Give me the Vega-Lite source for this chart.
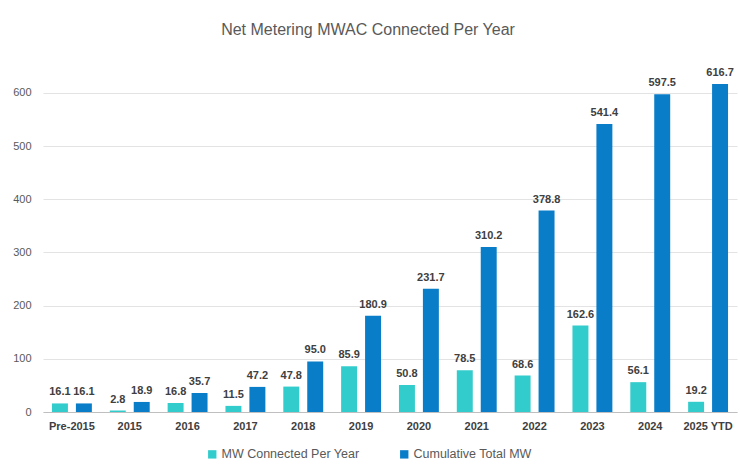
{
  "$schema": "https://vega.github.io/schema/vega-lite/v6.json",
  "width": 694,
  "height": 351,
  "autosize": {"type": "none"},
  "padding": {"left": 43, "top": 61, "right": 3, "bottom": 62},
  "background": "white",
  "title": {
    "text": "Net Metering MWAC Connected Per Year",
    "font": "Liberation Sans",
    "fontSize": 16,
    "fontWeight": "normal",
    "color": "#595959",
    "anchor": "middle",
    "offset": 23,
    "dx": -22
  },
  "data": {
    "values": [
      {"year": "Pre-2015", "series": "MW Connected Per Year", "mw": 16.1},
      {"year": "Pre-2015", "series": "Cumulative Total MW", "mw": 16.1},
      {"year": "2015", "series": "MW Connected Per Year", "mw": 2.8},
      {"year": "2015", "series": "Cumulative Total MW", "mw": 18.9},
      {"year": "2016", "series": "MW Connected Per Year", "mw": 16.8},
      {"year": "2016", "series": "Cumulative Total MW", "mw": 35.7},
      {"year": "2017", "series": "MW Connected Per Year", "mw": 11.5},
      {"year": "2017", "series": "Cumulative Total MW", "mw": 47.2},
      {"year": "2018", "series": "MW Connected Per Year", "mw": 47.8},
      {"year": "2018", "series": "Cumulative Total MW", "mw": 95.0},
      {"year": "2019", "series": "MW Connected Per Year", "mw": 85.9},
      {"year": "2019", "series": "Cumulative Total MW", "mw": 180.9},
      {"year": "2020", "series": "MW Connected Per Year", "mw": 50.8},
      {"year": "2020", "series": "Cumulative Total MW", "mw": 231.7},
      {"year": "2021", "series": "MW Connected Per Year", "mw": 78.5},
      {"year": "2021", "series": "Cumulative Total MW", "mw": 310.2},
      {"year": "2022", "series": "MW Connected Per Year", "mw": 68.6},
      {"year": "2022", "series": "Cumulative Total MW", "mw": 378.8},
      {"year": "2023", "series": "MW Connected Per Year", "mw": 162.6},
      {"year": "2023", "series": "Cumulative Total MW", "mw": 541.4},
      {"year": "2024", "series": "MW Connected Per Year", "mw": 56.1},
      {"year": "2024", "series": "Cumulative Total MW", "mw": 597.5},
      {"year": "2025 YTD", "series": "MW Connected Per Year", "mw": 19.2},
      {"year": "2025 YTD", "series": "Cumulative Total MW", "mw": 616.7}
    ]
  },
  "encoding": {
    "x": {
      "field": "year",
      "type": "nominal",
      "sort": null,
      "title": null,
      "scale": {"paddingInner": 0.31, "paddingOuter": 0.155},
      "axis": {
        "labelAngle": 0,
        "labelFont": "Liberation Sans",
        "labelFontSize": 11,
        "labelFontWeight": "bold",
        "labelColor": "#404040",
        "labelPadding": 8,
        "ticks": false,
        "domainColor": "#BFBFBF",
        "grid": false
      }
    },
    "xOffset": {
      "field": "series",
      "type": "nominal",
      "sort": ["MW Connected Per Year", "Cumulative Total MW"],
      "scale": {"paddingInner": 0.3333, "paddingOuter": 0}
    },
    "y": {
      "field": "mw",
      "type": "quantitative",
      "title": null,
      "scale": {"domain": [0, 660], "nice": false},
      "axis": {
        "values": [0, 100, 200, 300, 400, 500, 600],
        "labelFont": "Liberation Sans",
        "labelFontSize": 11,
        "labelColor": "#595959",
        "labelPadding": 12,
        "ticks": false,
        "domain": false,
        "gridColor": "#E3E3E3",
        "gridWidth": 1
      }
    }
  },
  "layer": [
    {
      "mark": {"type": "bar"},
      "encoding": {
        "color": {
          "field": "series",
          "type": "nominal",
          "sort": ["MW Connected Per Year", "Cumulative Total MW"],
          "scale": {"domain": ["MW Connected Per Year", "Cumulative Total MW"], "range": ["#33CCCC", "#0A7DC8"]},
          "legend": {
            "title": null,
            "orient": "none",
            "direction": "horizontal",
            "legendX": 163,
            "legendY": 387,
            "symbolType": "square",
            "symbolSize": 70,
            "symbolStrokeWidth": 0,
            "labelFont": "Liberation Sans",
            "labelFontSize": 12.5,
            "labelColor": "#595959",
            "columnPadding": 38,
            "labelOffset": 3
          }
        }
      }
    },
    {
      "mark": {
        "type": "text",
        "dy": -11,
        "font": "Liberation Sans",
        "fontSize": 11,
        "fontWeight": "bold",
        "color": "#404040"
      },
      "encoding": {
        "text": {"field": "mw", "type": "quantitative", "format": ".1f"}
      }
    }
  ],
  "config": {
    "view": {"stroke": null}
  }
}
